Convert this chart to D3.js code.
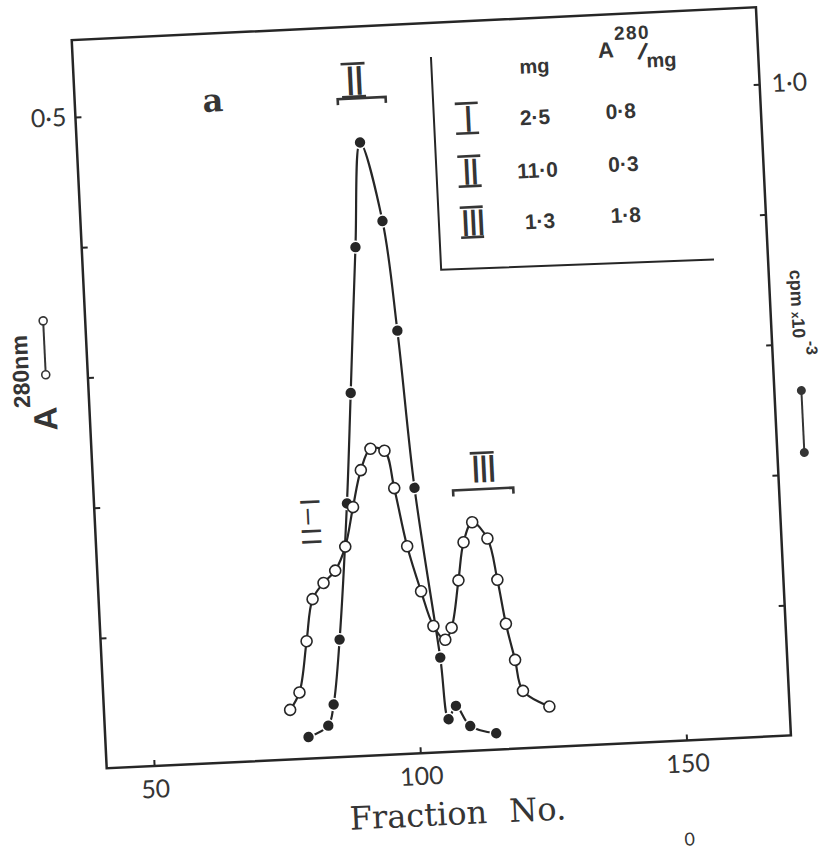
<!DOCTYPE html>
<html>
<head>
<meta charset="utf-8">
<script src="https://cdn.jsdelivr.net/npm/d3@7"></script>
<style>
	body { margin: 0; background: #fff; }
</style>
</head>
<body>
<div id="chart"></div>
<script>
	// DATA
	// open circles : A280nm (left axis)
	var fractionA = [76.0, 77.9, 79.7, 81.2, 83.4, 85.7, 87.8, 89.6, 91.4, 93.4, 96.0, 97.5, 99.4,
			101.6, 103.6, 105.7, 107.0, 108.7, 110.0, 111.8, 114.5, 116.0, 117.2, 118.6, 119.8, 124.6]
	, absorbance = [0.038, 0.051, 0.090, 0.122, 0.134, 0.143, 0.161, 0.191, 0.219, 0.235, 0.233, 0.204, 0.159,
			0.124, 0.097, 0.086, 0.095, 0.131, 0.160, 0.175, 0.162, 0.130, 0.096, 0.068, 0.044, 0.031]

	// filled circles : cpm x10-3 (right axis)
	, fractionCpm = [79.2, 83.0, 84.2, 85.9, 88.5, 90.2, 92.4, 94.2, 97.7, 99.5, 101.3, 104.6, 105.6, 107.1, 109.6, 114.4]
	, cpm = [0.033, 0.049, 0.081, 0.180, 0.388, 0.557, 0.780, 0.940, 0.818, 0.649, 0.407, 0.145, 0.050, 0.070, 0.038, 0.025]

	// ticks
	, xTicks = [50, 100, 150]
	, xTickLabels = ["50", "100", "150"]
	, leftTicks = [0.1, 0.2, 0.3, 0.4, 0.5]
	, leftLabelTicks = [0.5]
	, leftLabelText = ["0·5"]
	, rightTicks = [0.2, 0.4, 0.6, 0.8, 1.0]
	, rightLabelTicks = [1.0]
	, rightLabelText = ["1·0"]

	// inset table
	, peakNames = ["I", "II", "III"]
	, peakMg = ["2·5", "11·0", "1·3"]
	, peakRatio = ["0·8", "0·3", "1·8"];

	var W = 685
	, H = 729
	, ink = "#262626"
	, textInk = "#353535"
	, sans = "Lato, 'Open Sans', sans-serif"
	, bold = "'Liberation Sans', Arial, sans-serif"
	, serif = "'DejaVu Serif', 'Liberation Serif', serif";

	var svg = d3.select("#chart").append("svg")
		.attr("width", 830)
		.attr("height", 851);

	// the scanned page is slightly tilted
	var g = svg.append("g")
		.attr("transform", "translate(106.7,768.3) rotate(-2.75) translate(0," + (-H) + ")");

	var x = d3.scaleLinear().domain([41.1, 169.6]).range([0, W])
	, yA = d3.scaleLinear().domain([0, 0.559]).range([H, 0])
	, yC = d3.scaleLinear().domain([0, 1.118]).range([H, 0]);

	function styleAxis(sel) {
		sel.attr("font-family", sans).attr("font-size", 25).attr("color", ink);
		sel.select(".domain").remove();
		sel.selectAll(".tick line").attr("stroke-width", 2);
		sel.selectAll(".tick text").attr("fill", textInk);
	}

	g.append("g")
		.attr("transform", "translate(0," + H + ")")
		.call(d3.axisBottom(x).tickValues(xTicks).tickSizeInner(-6).tickSizeOuter(0).tickPadding(14)
			.tickFormat(function(d, i) { return xTickLabels[i]; }))
		.call(styleAxis);

	g.append("g")
		.call(d3.axisLeft(yA).tickValues(leftTicks).tickSizeInner(-6).tickSizeOuter(0).tickPadding(9)
			.tickFormat(function(d) {
				var i = leftLabelTicks.indexOf(d);
				return i < 0 ? "" : leftLabelText[i];
			}))
		.call(styleAxis);

	g.append("g")
		.attr("transform", "translate(" + W + ",0)")
		.call(d3.axisRight(yC).tickValues(rightTicks).tickSizeInner(-6).tickSizeOuter(0).tickPadding(12)
			.tickFormat(function(d) {
				var i = rightLabelTicks.indexOf(d);
				return i < 0 ? "" : rightLabelText[i];
			}))
		.call(styleAxis);

	// frame
	g.append("rect")
		.attr("width", W)
		.attr("height", H)
		.attr("fill", "none")
		.attr("stroke", ink)
		.attr("stroke-width", 2.5);

	// CURVES
	var line = d3.line().curve(d3.curveCatmullRom.alpha(0.5));

	var ptsA = fractionA.map(function(f, i) { return [x(f), yA(absorbance[i])]; })
	, ptsC = fractionCpm.map(function(f, i) { return [x(f), yC(cpm[i])]; });

	g.append("path").datum(ptsC).attr("d", line)
		.attr("fill", "none").attr("stroke", ink).attr("stroke-width", 2.2);
	g.append("path").datum(ptsA).attr("d", line)
		.attr("fill", "none").attr("stroke", ink).attr("stroke-width", 2.2);

	// filled markers, with a white halo so the line stops short of the dot
	g.selectAll("circle.cpm")
		.data(ptsC)
		.enter()
		.append("circle")
		.attr("class", "cpm")
		.attr("cx", function(d) { return d[0]; })
		.attr("cy", function(d) { return d[1]; })
		.attr("r", 5.2)
		.attr("fill", ink)
		.attr("stroke", "#fff")
		.attr("stroke-width", 3)
		.attr("paint-order", "stroke");

	g.selectAll("circle.abs")
		.data(ptsA)
		.enter()
		.append("circle")
		.attr("class", "abs")
		.attr("cx", function(d) { return d[0]; })
		.attr("cy", function(d) { return d[1]; })
		.attr("r", 5.5)
		.attr("fill", "#fff")
		.attr("stroke", ink)
		.attr("stroke-width", 1.6);

	// roman numeral with a bar above and below
	function numeral(parent, label, cx, cy, stem, barW, bars) {
		var fs = stem / 0.72;
		parent.append("text")
			.attr("x", cx)
			.attr("y", cy + stem / 2)
			.attr("text-anchor", "middle")
			.attr("font-family", bold)
			.attr("font-size", fs)
			.attr("letter-spacing", -fs * 0.07)
			.attr("fill", textInk)
			.text(label);
		bars.forEach(function(b) {
			var yy = b < 0 ? cy - stem / 2 - 1.5 : cy + stem / 2 + 1.5;
			parent.append("line")
				.attr("x1", cx - barW / 2).attr("x2", cx + barW / 2)
				.attr("y1", yy).attr("y2", yy)
				.attr("stroke", textInk).attr("stroke-width", 2.6);
		});
	}

	function bracket(parent, x0, x1, yy) {
		parent.append("path")
			.attr("d", "M" + x0 + "," + (yy + 6) + "L" + x0 + "," + yy + "L" + x1 + "," + yy + "L" + x1 + "," + (yy + 6))
			.attr("fill", "none").attr("stroke", textInk).attr("stroke-width", 2.6);
	}

	// peak labels
	numeral(g, "II", x(93.5), yA(0.518), 30, 24, [-1, 1]);
	bracket(g, x(90.4), x(99.4), yA(0.504));
	numeral(g, "III", x(114.2), yA(0.216), 28, 24, [-1]);
	bracket(g, x(108.5), x(119.8), yA(0.2));

	g.append("text")
		.attr("transform", "translate(" + x(81.6) + "," + yA(0.18) + ") rotate(90)")
		.attr("text-anchor", "middle")
		.attr("dy", "0.35em")
		.attr("font-family", bold)
		.attr("font-size", 28)
		.attr("letter-spacing", 3)
		.attr("fill", textInk)
		.text("I–II");

	g.append("text")
		.attr("x", 138).attr("y", 78)
		.attr("text-anchor", "middle")
		.attr("font-family", serif)
		.attr("font-weight", "bold")
		.attr("font-size", 32)
		.attr("fill", textInk)
		.text("a");

	// INSET TABLE
	var tbl = g.append("g");
	tbl.append("path")
		.attr("d", "M358,34L358,247L631,250")
		.attr("fill", "none").attr("stroke", ink).attr("stroke-width", 2);

	tbl.append("text")
		.attr("x", 461).attr("y", 55)
		.attr("text-anchor", "middle")
		.attr("font-family", bold).attr("font-weight", "bold").attr("font-size", 20)
		.attr("fill", textInk).text("mg");
	tbl.append("text")
		.attr("x", 533).attr("y", 43)
		.attr("text-anchor", "middle")
		.attr("font-family", bold).attr("font-weight", "bold").attr("font-size", 22)
		.attr("fill", textInk).text("A");
	tbl.append("text")
		.attr("x", 560).attr("y", 26)
		.attr("text-anchor", "middle")
		.attr("font-family", bold).attr("font-weight", "bold").attr("font-size", 19)
		.attr("letter-spacing", 1.5)
		.attr("fill", textInk).text("280");
	tbl.append("text")
		.attr("x", 570).attr("y", 47)
		.attr("text-anchor", "middle")
		.attr("font-family", bold).attr("font-weight", "bold").attr("font-size", 24)
		.attr("transform", "rotate(18,570,38)")
		.attr("fill", textInk).text("/");
	tbl.append("text")
		.attr("x", 588).attr("y", 55)
		.attr("text-anchor", "middle")
		.attr("font-family", bold).attr("font-weight", "bold").attr("font-size", 20)
		.attr("fill", textInk).text("mg");

	var rowY = [97, 150, 201];
	peakNames.forEach(function(n, i) {
		numeral(tbl, n, 391, rowY[i], 27, 23, [-1, 1]);
		tbl.append("text")
			.attr("x", 459).attr("y", rowY[i] + 2).attr("dy", "0.36em")
			.attr("text-anchor", "middle")
			.attr("font-family", bold).attr("font-weight", "bold").attr("font-size", 21)
			.attr("fill", textInk).text(peakMg[i]);
		tbl.append("text")
			.attr("x", 545).attr("y", rowY[i]).attr("dy", "0.36em")
			.attr("text-anchor", "middle")
			.attr("font-family", bold).attr("font-weight", "bold").attr("font-size", 21)
			.attr("fill", textInk).text(peakRatio[i]);
	});

	// AXIS TITLES
	g.append("text")
		.attr("x", x(106.5)).attr("y", H + 73)
		.attr("text-anchor", "middle")
		.attr("font-family", serif)
		.attr("font-size", 32)
		.attr("word-spacing", 12)
		.attr("fill", textInk)
		.text("Fraction No.");

	// left title : A280nm  o--o
	var lt = g.append("g").attr("transform", "translate(-33,389) rotate(-90)");
	lt.append("text")
		.attr("font-family", bold).attr("font-weight", "bold").attr("font-size", 33)
		.attr("fill", textInk)
		.text("A")
		.append("tspan")
		.attr("dy", -26).attr("font-size", 23)
		.text("280nm");
	lt.append("line")
		.attr("x1", 56).attr("x2", 110).attr("y1", -9).attr("y2", -9)
		.attr("stroke", textInk).attr("stroke-width", 2);
	lt.selectAll("circle")
		.data([56, 110])
		.enter()
		.append("circle")
		.attr("cx", function(d) { return d; })
		.attr("cy", -9)
		.attr("r", 4)
		.attr("fill", "#fff")
		.attr("stroke", textInk)
		.attr("stroke-width", 1.6);

	// right title : cpm x10-3  •--•
	var rt = g.append("g").attr("transform", "translate(706,264) rotate(90)");
	var rtText = rt.append("text")
		.attr("font-family", bold).attr("font-weight", "bold").attr("font-size", 18)
		.attr("fill", textInk);
	rtText.append("tspan").text("cpm ");
	rtText.append("tspan").attr("font-size", 12).text("x");
	rtText.append("tspan").text("10");
	rtText.append("tspan").attr("dy", -13).attr("dx", 3).attr("font-size", 16).text("-3");
	rt.append("line")
		.attr("x1", 121).attr("x2", 183).attr("y1", -6).attr("y2", -6)
		.attr("stroke", textInk).attr("stroke-width", 2);
	rt.selectAll("circle")
		.data([121, 183])
		.enter()
		.append("circle")
		.attr("cx", function(d) { return d; })
		.attr("cy", -6)
		.attr("r", 4.5)
		.attr("fill", textInk);

	// edge of the next panel's label, at the foot of the page
	g.append("text")
		.attr("x", 579).attr("y", H + 105)
		.attr("text-anchor", "middle")
		.attr("font-family", sans)
		.attr("font-size", 18)
		.attr("fill", textInk)
		.text("0");
</script>
</body>
</html>
